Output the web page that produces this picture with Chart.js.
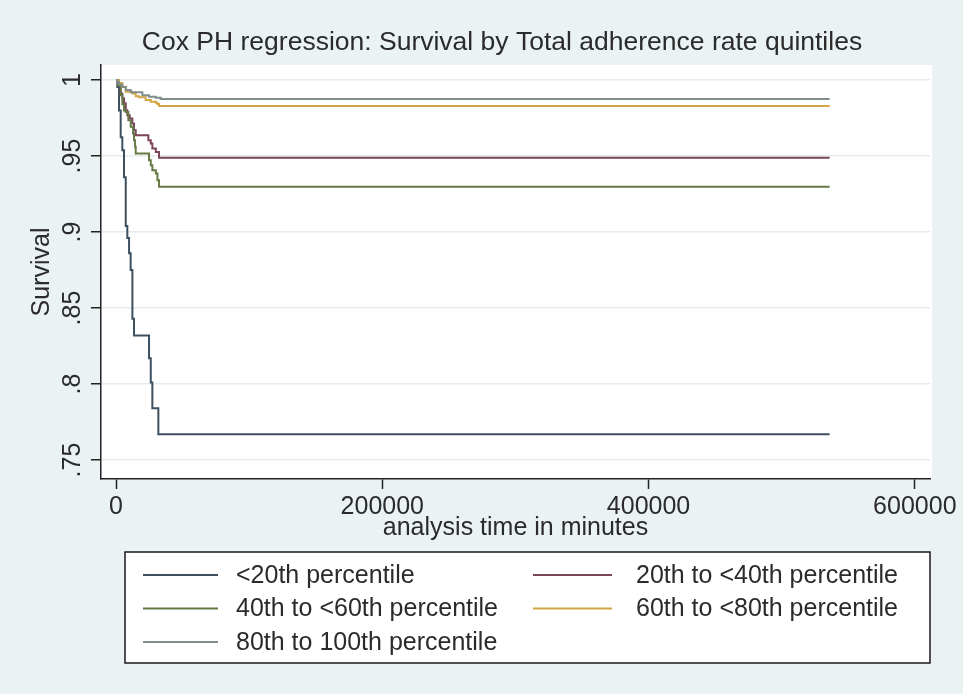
<!DOCTYPE html>
<html><head><meta charset="utf-8">
<script src="https://cdn.jsdelivr.net/npm/chart.js@4.4.1/dist/chart.umd.min.js"></script>
<style>html,body{margin:0;padding:0;background:#eaf2f3;}#wrap{width:963px;height:694px;position:relative;}canvas{display:block}</style>
</head><body><div id="wrap"><canvas id="c" width="963" height="694"></canvas></div>
<script>
const chartTitle = "Cox PH regression: Survival by Total adherence rate quintiles";
const xTitle = "analysis time in minutes";
const yTitle = "Survival";
const seriesLabels = ["<20th percentile", "20th to <40th percentile", "40th to <60th percentile", "60th to <80th percentile", "80th to 100th percentile"];
const seriesColors = ["#3d5060", "#7a4658", "#667a45", "#d3a545", "#7f8d8d"];
const xTickValues = [0, 200000, 400000, 600000];
const xTickLabels = ["0", "200000", "400000", "600000"];
const yTickValues = [0.75, 0.8, 0.85, 0.9, 0.95, 1];
const yTickLabels = [".75", ".8", ".85", ".9", ".95", "1"];

const timeQ1 = [0, 980, 2260, 3500, 4740, 6000, 7300, 8500, 9800, 11000, 12300, 13500, 24800, 26100, 27300, 31800, 536000];
const survQ1 = [1, 0.9954, 0.980, 0.9624, 0.9538, 0.936, 0.904, 0.896, 0.886, 0.875, 0.843, 0.832, 0.817, 0.801, 0.784, 0.767, 0.767];
const timeQ2 = [0, 1500, 3500, 4740, 6000, 7300, 8500, 10300, 12260, 13500, 14800, 24300, 26100, 27300, 29900, 32300, 536000];
const survQ2 = [1, 0.9974, 0.9912, 0.9881, 0.9848, 0.9802, 0.9769, 0.9747, 0.9714, 0.967, 0.9637, 0.9604, 0.9582, 0.9549, 0.9527, 0.9489, 0.9489];
const timeQ3 = [0, 1500, 3500, 4740, 6000, 7300, 9250, 11050, 12800, 13500, 14300, 14800, 24800, 26100, 27300, 29900, 31100, 32300, 536000];
const survQ3 = [1, 0.9967, 0.990, 0.984, 0.980, 0.979, 0.9736, 0.9692, 0.9648, 0.9604, 0.956, 0.9516, 0.9472, 0.9439, 0.9406, 0.9385, 0.934, 0.9298, 0.9298];
const timeQ4 = [0, 2260, 4740, 7300, 12260, 14800, 17300, 22300, 26100, 29900, 31100, 32300, 536000];
const survQ4 = [1, 0.998, 0.9956, 0.9923, 0.9912, 0.9894, 0.9886, 0.9868, 0.9857, 0.985, 0.9842, 0.9829, 0.9829];
const timeQ5 = [0, 980, 2260, 4740, 7300, 11050, 19800, 24800, 29900, 33600, 536000];
const survQ5 = [1, 0.9987, 0.997, 0.9954, 0.9934, 0.9919, 0.990, 0.989, 0.9883, 0.9875, 0.9875];

const times = [timeQ1, timeQ2, timeQ3, timeQ4, timeQ5];
const survs = [survQ1, survQ2, survQ3, survQ4, survQ5];

const FONT = "'Liberation Sans', Arial, Helvetica, sans-serif";
const TEXT = "#2b2b2b";

const datasets = seriesLabels.map((lab, i) => ({
  label: lab,
  data: times[i].map((t, j) => ({x: t, y: survs[i][j]})),
  borderColor: seriesColors[i],
  borderWidth: 2,
  pointRadius: 0,
  stepped: true,
  fill: false,
  order: seriesLabels.length - i
}));

const bgPlugin = {
  id: 'bg',
  beforeDraw(chart) {
    const {ctx, chartArea: a} = chart;
    ctx.save();
    ctx.fillStyle = '#eaf2f3';
    ctx.fillRect(0, 0, chart.width, chart.height);
    ctx.fillStyle = '#ffffff';
    ctx.fillRect(a.left, a.top, a.right - a.left + 2, a.bottom - a.top);
    ctx.restore();
  }
};

const titlePlugin = {
  id: 'stataTitle',
  afterDraw(chart) {
    const ctx = chart.ctx;
    ctx.save();
    ctx.font = "26.5px " + FONT;
    ctx.fillStyle = TEXT;
    ctx.textAlign = 'center';
    ctx.textBaseline = 'middle';
    ctx.fillText(chartTitle, 502, 43);
    ctx.restore();
  }
};

const legendPlugin = {
  id: 'stataLegend',
  afterDraw(chart) {
    const ctx = chart.ctx;
    const box = {x: 125, y: 552, w: 805, h: 111};
    ctx.save();
    ctx.fillStyle = '#ffffff';
    ctx.fillRect(box.x, box.y, box.w, box.h);
    ctx.strokeStyle = '#1a1a1a';
    ctx.lineWidth = 1.5;
    ctx.strokeRect(box.x, box.y, box.w, box.h);
    const colLine = [[143, 218], [533, 612]];
    const colText = [236, 636];
    const rowY = [575, 608.5, 642];
    ctx.font = "25px " + FONT;
    ctx.textBaseline = 'middle';
    ctx.textAlign = 'left';
    chart.data.datasets.forEach((ds, i) => {
      const c = i % 2, r = Math.floor(i / 2);
      ctx.strokeStyle = ds.borderColor;
      ctx.lineWidth = 2;
      ctx.beginPath();
      ctx.moveTo(colLine[c][0], rowY[r]);
      ctx.lineTo(colLine[c][1], rowY[r]);
      ctx.stroke();
      ctx.fillStyle = TEXT;
      ctx.fillText(ds.label, colText[c], rowY[r] + 1);
    });
    ctx.restore();
  }
};

new Chart(document.getElementById('c'), {
  type: 'line',
  data: {datasets},
  options: {
    responsive: false,
    animation: false,
    layout: {padding: {left: 0, right: 33, top: 65, bottom: 151}},
    plugins: {
      legend: {display: false},
      tooltip: {enabled: false},
      title: {display: false}
    },
    scales: {
      x: {
        type: 'linear', min: -11280, max: 611400,
        afterBuildTicks(s) { s.ticks = xTickValues.map(v => ({value: v})); },
        afterFit(s) { s.height = 64; s.paddingLeft = 0; s.paddingRight = 0; },
        ticks: {
          color: TEXT, padding: 3, maxRotation: 0, autoSkip: false,
          font: {family: FONT, size: 25, lineHeight: 1.2},
          callback(v) { const k = xTickValues.indexOf(v); return k >= 0 ? xTickLabels[k] : ''; }
        },
        grid: {drawOnChartArea: false, drawTicks: true, tickLength: 10, tickColor: '#222', tickWidth: 1.5},
        border: {display: true, color: '#222', width: 1.5},
        title: {display: true, text: xTitle, color: TEXT, font: {family: FONT, size: 25, lineHeight: 1.2}, padding: {top: 0, bottom: 0}}
      },
      y: {
        type: 'linear', min: 0.7375, max: 1.0099,
        afterBuildTicks(s) { s.ticks = yTickValues.map(v => ({value: v})); },
        afterFit(s) { s.width = 101; s.paddingTop = 0; s.paddingBottom = 0; },
        ticks: {
          color: TEXT, padding: 1, minRotation: 90, maxRotation: 90, crossAlign: 'center', autoSkip: false,
          font: {family: FONT, size: 25, lineHeight: 1.2},
          callback(v) { const k = yTickValues.findIndex(t => Math.abs(t - v) < 1e-9); return k >= 0 ? yTickLabels[k] : ''; }
        },
        grid: {drawOnChartArea: true, color: '#e4ecee', lineWidth: 1.5, drawTicks: true, tickLength: 10, tickColor: '#222', tickWidth: 1.5},
        border: {display: true, color: '#222', width: 1.5},
        title: {display: true, text: yTitle, color: TEXT, font: {family: FONT, size: 25, lineHeight: 1.2}, padding: {top: 27, bottom: 0}}
      }
    }
  },
  plugins: [bgPlugin, titlePlugin, legendPlugin]
});
</script></body></html>
